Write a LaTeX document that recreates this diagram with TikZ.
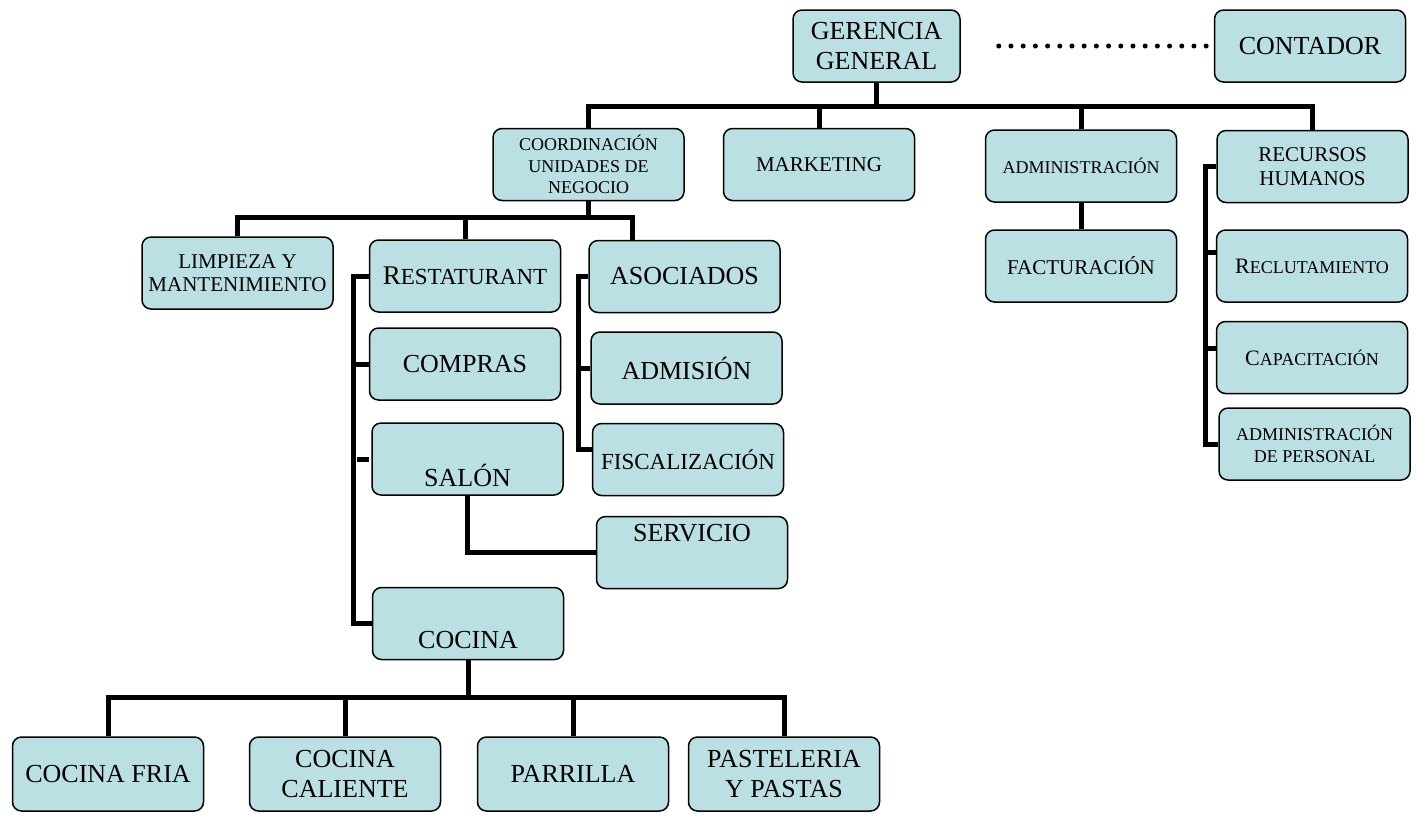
\documentclass[tikz,border=0pt]{standalone}
\usepackage{fontspec}
\setmainfont{Liberation Serif}
\definecolor{cajafondo}{RGB}{187,224,227}
\newcommand{\versalita}[4]{{\fontsize{#1}{#1}\selectfont #3}{\fontsize{#2}{#2}\selectfont #4}}

\begin{document}
\begin{tikzpicture}[x=0.5pt, y=-0.5pt,
    caja/.style={draw, rounded corners=4.5pt, fill=cajafondo, line width=0.75pt,
      minimum width=95.5pt, minimum height=36pt, inner sep=1pt, align=center,
      font=\fontsize{13}{15}\selectfont},
    medio/.style={font=\fontsize{10.5}{12.2}\selectfont},
    chico/.style={font=\fontsize{9}{10.8}\selectfont},
    linea/.style={line width=2.5pt}]
    \useasboundingbox (0,0) rectangle (1416,816);
    % direccion
    \node[caja, minimum width=83.5pt] (ger) at (876.5,46) {GERENCIA\\GENERAL};
    \node[caja] (cont) at (1310,46) {CONTADOR};
    \node[caja, chico] (coord) at (588.5,164.5) {COORDINACIÓN\\UNIDADES DE\\NEGOCIO};
    \node[caja, medio] (mkt) at (819,164.5) {MARKETING};
    \node[caja, chico] (adm) at (1081,166) {ADMINISTRACIÓN};
    \node[caja, medio] (rrhh) at (1312.5,166.5) {RECURSOS\\HUMANOS};
    \node[caja, medio] (fact) at (1081,266) {FACTURACIÓN};
    \node[caja] (recl) at (1312,266) {\versalita{11}{9}{R}{ECLUTAMIENTO}};
    \node[caja] (capa) at (1312,357.5) {\versalita{11}{9}{C}{APACITACIÓN}};
    \node[caja, chico] (admp) at (1314.5,444) {ADMINISTRACIÓN\\DE PERSONAL};
    % unidades de negocio
    \node[caja, medio, font=\fontsize{10.5}{11.7}\selectfont] (limp) at (237.5,273) {LIMPIEZA Y\\MANTENIMIENTO};
    \node[caja] (rest) at (465,276) {\versalita{13.5}{11.5}{R}{ESTATURANT}};
    \node[caja] (comp) at (465,364) {COMPRAS};
    \node[caja] (salon) at (467.5,459) {\strut\\SALÓN};
    \node[caja] (asoc) at (684.5,276.5) {ASOCIADOS};
    \node[caja] (admi) at (686.5,368) {ADMISIÓN};
    \node[caja, font=\fontsize{11.5}{13}\selectfont] (fisc) at (688,459.5) {FISCALIZACIÓN};
    \node[caja] (serv) at (692,552.5) {SERVICIO\\\strut};
    \node[caja] (cocina) at (468,623.5) {\strut\\COCINA};
    % cocina
    \node[caja, minimum height=37pt] (cfria) at (108,774) {COCINA FRIA};
    \node[caja, minimum height=37pt] (ccal) at (345,774) {COCINA\\CALIENTE};
    \node[caja, minimum height=37pt] (parr) at (573,774) {PARRILLA};
    \node[caja, minimum height=37pt] (past) at (784,774) {PASTELERIA\\Y PASTAS};

    \coordinate (busTop) at (0,106);
    \coordinate (busCoord) at (0,217);
    \coordinate (busCocina) at (0,697);
    \coordinate (ejeRest) at (353,0);
    \coordinate (toqueSalon) at (357,459);
    \coordinate (asocA) at (578,449);
    \coordinate (asocPie) at ([xshift=-26.25pt]asoc.north);
    \coordinate (ejeRrhh) at (1205,0);
    \coordinate (rrhhA) at (1205,252);
    \coordinate (rrhhB) at (1205,348);

    \draw[line width=2.5pt, line cap=round, dash pattern=on 0pt off 6.1pt,
      shorten <=19pt, shorten >=1pt] (ger) -- (cont);
    \draw[linea] (ger) -- (ger.south |- busTop);
    \draw[linea] (coord) |- (busTop -| rrhh) -- (rrhh);
    \draw[linea] (mkt) -- (mkt.north |- busTop);
    \draw[linea] (adm) -- (adm.north |- busTop);
    \draw[linea] (adm) -- (fact);
    \draw[linea] (rrhh.west) -| (ejeRrhh |- admp.west) -- (admp.west);
    \draw[linea] (rrhhA) -- (rrhhA -| recl.west);
    \draw[linea] (rrhhB) -- (rrhhB -| capa.west);

    \draw[linea] (coord) -- (coord.south |- busCoord);
    \draw[linea] (limp) |- (asocPie |- busCoord) -- (asocPie);
    \draw[linea] (rest) -- (rest.north |- busCoord);
    \draw[linea] (rest.west) -| (ejeRest |- cocina.west) -- (cocina.west);
    \draw[linea] (comp.west) -- (comp.west -| ejeRest);
    \draw[linea, shorten <=1pt] (salon.west) -- (toqueSalon);
    \draw[linea] (salon) |- (serv);
    \draw[linea] (asoc.west) -| (asocA) -- (asocA -| fisc.west);
    \draw[linea] (admi.west) -- (admi.west -| asocA);

    \draw[linea] (cocina) -- (cocina.south |- busCocina);
    \draw[linea] (cfria) |- (past |- busCocina) -- (past);
    \draw[linea] (ccal) -- (ccal.north |- busCocina);
    \draw[linea] (parr) -- (parr.north |- busCocina);
\end{tikzpicture}
\end{document}
